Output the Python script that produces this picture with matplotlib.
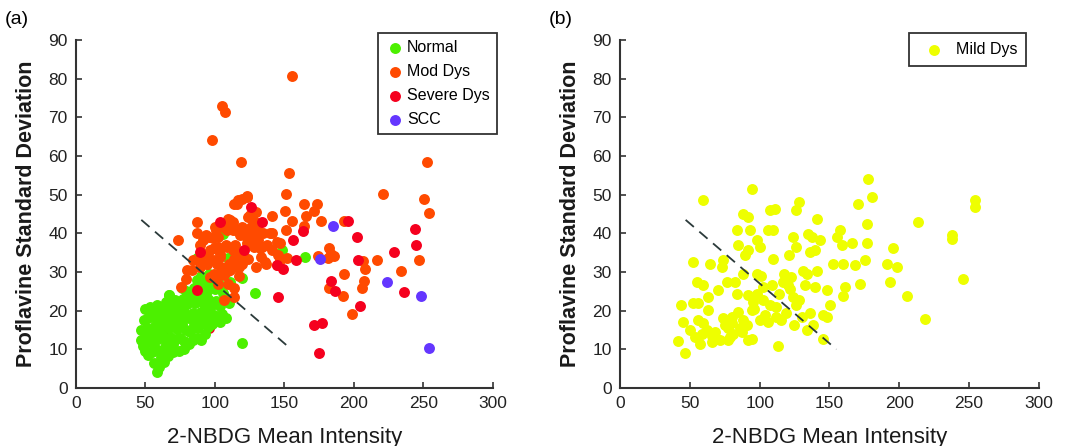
import numpy as np
import matplotlib
matplotlib.use("Agg")
import matplotlib.pyplot as plt

plt.rcParams['font.family'] = ['Liberation Sans', 'DejaVu Sans']

# --- DADOS ---
normal_x = [58, 60, 63, 56, 61, 52, 55, 58, 62, 66, 70, 74, 78, 66, 70, 50, 48,
            47, 50, 53, 56, 59, 62, 65, 68, 72, 75, 78, 81, 84, 87, 90, 93,
            47, 51, 54, 57, 60, 63, 67, 70, 73, 76, 79, 82, 85, 88, 91, 95, 98, 100,
            49, 52, 55, 58, 61, 64, 66, 69, 72, 75, 78, 81, 84, 87, 90, 93, 96, 99,
            102, 105, 108, 104, 50, 53, 58, 60, 56, 64,
            62, 65, 68, 71, 74, 77, 80, 83, 86, 89, 92, 95, 98, 101, 104, 107, 110,
            79, 82, 85, 88, 91, 94, 97, 100, 103, 106, 67, 76,
            87, 90, 93, 96, 99, 102,
            119.8, 119.3, 128.9, 148.6, 165, 105.6, 109.7, 110.9, 86.9, 67.2]
normal_y = [4.2, 5.5, 6.8, 6.5, 8, 8.5, 9.3, 9.8, 9, 8.3, 9.2, 9.5, 10, 11, 11.5, 9.5, 10.8,
            12.5, 13.2, 12, 13.5, 12.8, 13.8, 12.5, 13.3, 12.7, 13, 12.2, 11.5, 12.3, 13, 12.5, 14,
            15, 15.5, 14.8, 16, 15.3, 16.2, 15.5, 16.8, 15.2, 16.5, 15, 14.5, 16.2, 15.5, 16.8, 15.8, 16.5, 17.8,
            17.5, 18.2, 19.5, 17.5, 18.8, 17.7, 19.6, 18.2, 19.3, 18.4, 19.7, 18, 19.4, 18.3, 19.6, 18.5, 19.8, 19,
            18.5, 19.2, 18.2, 17, 20.5, 21, 21.5, 19.5, 11, 10.5,
            20.8, 22.3, 21, 22.7, 21.5, 23, 21.8, 23.2, 22, 23.8, 21.7, 23, 21.5, 22.6, 21.3, 23.5, 22,
            25.2, 24.5, 26, 25.3, 26.5, 25, 26.8, 25.5, 25.8, 24.5, 24, 25.8,
            28, 29, 28.2, 29.5, 28.5, 27.5,
            11.7, 28.5, 24.6, 35.6, 33.9, 39.9, 33.6, 27.4, 33.6, 24]

mod_x = [155.8, 104.9, 107.3, 97.7, 118.6, 153.6, 252.8, 220.9, 250.7, 253.9,
         151, 150.5, 155.3, 164, 173.3, 171.5, 165.9, 176.3, 193, 247.2, 234.2, 216.3,
         206.3, 208.1, 207, 205.8, 198.8, 182.1, 183.7, 186, 181.4, 193, 182.1, 191.9, 174.4,
         115.7, 119.3, 122.9, 140.9, 134.9, 140.9, 130.1, 125.3, 127.7, 121.7, 112.8, 110.9,
         108.6, 102.5, 100.1, 95.8, 91.6, 86.9, 86.9, 73.7, 89.3, 94.4, 99.2, 103.7, 113.4,
         118.2, 124.1, 127.7, 131.3, 122.9, 118.2, 137.3, 129.7, 136.1, 117.1, 110.9, 106.2,
         102.5, 99.2, 94.4, 89.3, 83.2, 79.2, 75.9, 106.2, 113.4, 109.7, 96.8, 101.3, 108.6,
         114.6, 127.7, 132.5, 79.7, 84.4, 144.5, 145.7, 152, 164.4, 123.3, 116.3, 113.9,
         129.5, 123.6, 130.6, 125.9, 131.8, 128.3, 124.5, 121, 119.8, 115.1, 112.7, 109.2,
         106.9, 101, 98.6, 93.9, 96.3, 102.2, 108, 112.7, 118.6, 128.3, 134.1, 133, 136.5,
         141.2, 146.8, 146.8, 144.4, 119.8, 115.1, 110.4, 103.3, 98.6, 94, 89.2, 104.5,
         109.2, 102.2, 139.7, 151, 114, 117]
mod_y = [80.7, 72.9, 71.4, 64.1, 58.5, 55.5, 58.5, 50.1, 48.8, 45.4,
         50.3, 45.8, 43.1, 47.6, 47.6, 45.7, 44.4, 43.1, 43.1, 33, 30.3, 33.1,
         32.9, 30.7, 27.8, 26, 19.2, 36.3, 34.6, 34.2, 33.7, 29.6, 26, 23.7, 34.2,
         47.7, 49, 49.6, 44.4, 40, 40, 41.7, 44.7, 43.4, 40.8, 40.8, 43.4,
         40.8, 39.1, 41.7, 39.1, 38.2, 40.1, 43, 38.4, 36.9, 34.8, 36.1, 34.8, 33.5,
         34.8, 33.5, 36.9, 38.2, 37.4, 39.5, 36.9, 31.3, 32.6, 31.3, 30.5, 29.2,
         27, 29.6, 32.2, 31.3, 30.5, 28.3, 26.1, 22.7, 23.6, 27, 28.7, 32.2, 36.5,
         36.9, 40, 36.1, 30.5, 33, 37.8, 34.3, 33.6, 41.8, 49.4, 48.6, 47.7,
         45.6, 44.3, 42.6, 41.7, 40, 39.1, 38.2, 39.5, 41.7, 40.8, 43, 43.8,
         41.3, 40.8, 38.7, 39.5, 35.7, 36.5, 37, 35.7, 34.8, 36.5, 36.5, 33.9, 32.2,
         35.7, 37.4, 33.1, 31.8, 32.2, 31.3, 32.2, 33.9, 33.1, 32.2, 33.1, 31.3,
         30.4, 29.2, 40, 40.8, 26, 29]

severe_x = [174.7, 171.4, 177.2, 145.7, 156.2, 163.1, 158.6, 148.8, 144.5, 183.7,
            186.7, 204.2, 202.3, 196, 203, 229.1, 236, 244.2, 244.7, 89.3, 125.6,
            133.7, 103.7, 86.9, 95.8, 64.6, 121]
severe_y = [9.1, 16.2, 16.9, 23.6, 38.2, 40.6, 33, 30.9, 31.8, 27.8,
            25.2, 21.1, 39.1, 43.1, 33.1, 35.2, 24.8, 41.2, 37.1, 35.2, 46.9,
            43, 43, 25.3, 15.4, 13.8, 35.7]

scc_x = [185.3, 175.4, 223.7, 248.1, 254]
scc_y = [41.8, 33.5, 27.3, 23.9, 10.4]

mild_x = [41.7, 46.5, 43.4, 45.3, 52.5, 59.2, 54.9, 59.6, 52.5, 56, 50, 53.6, 57.2,
          59.6, 58.4, 56, 64.4, 63.2, 63.2, 65.6, 69.2, 71.6, 70.4, 72.8, 73.9, 76.3,
          75.1, 77.5, 78.7, 79.9, 82.3, 83.5, 81.1, 84.7, 83.5, 84.7, 88.3, 91.9, 94.2,
          93.1, 88.3, 89.5, 91.9, 88.3, 90.7, 87.1, 91.9, 94.2, 94.2, 95.4, 97.8, 97.8,
          97.8, 100.2, 100.2, 102.6, 102.6, 106.2, 109.7, 107.4, 110.9, 109.7, 108.6,
          106.2, 107.4, 111.8, 113, 114.2, 115.4, 117.7, 118.9, 116.6, 120.1, 121.3,
          122.5, 123.7, 123.7, 126.1, 126.1, 128.5, 126.1, 124.9, 128.5, 131.2, 133.6,
          132.4, 130, 133.6, 136, 134.8, 137.2, 136, 139.6, 140.8, 140.8, 139.6, 138.4,
          143.2, 145.5, 145.5, 147.9, 147.9, 150.3, 152.7, 155.1, 157.5, 158.7, 159.9,
          161.1, 159.9, 165.8, 168.2, 170.6, 171.8, 175.4, 176.6, 176.6, 177.8, 180.2,
          190.9, 193.3, 195.7, 198.1, 205.2, 213.6, 218.4, 237.4, 237.4, 245.7, 254.1,
          254.1, 68, 74, 80, 86, 66, 96, 104, 112, 119, 122, 101, 92, 62, 77]
mild_y = [12.1, 9.1, 21.6, 17.1, 32.6, 48.6, 27.4, 26.6, 22.1, 22.1, 14.9, 13.2, 11.5,
          16.7, 14, 17.6, 32.2, 23.6, 20.1, 11.9, 12.8, 12.3, 25.3, 31.3, 33, 27.4,
          16.3, 15.4, 13.2, 18.4, 27.4, 24.4, 14, 19.7, 40.8, 36.9, 45.1, 44.3, 51.6,
          40.8, 29.6, 34.4, 35.7, 17.6, 16.3, 14.5, 12.3, 12.8, 20.1, 22.3, 24.4, 29.6,
          38.2, 36.5, 17.6, 22.7, 26.1, 40.8, 40.8, 46, 46.4, 33.5, 26.6,
          17.2, 21.4, 18.4, 11, 24.4, 17.6, 29.6, 28.3, 27.4, 26.6, 34.4,
          28.7, 23.5, 39, 36.5, 46, 48.1, 21.4, 16.3, 22.7, 30.4, 29.6,
          26.6, 18.4, 14.9, 19.3, 39.9, 39, 35.2, 35.7, 43.8, 30.4, 26.1, 16.3,
          38.2, 12.8, 19, 25.3, 18.4, 21.4, 32.2, 39, 40.8, 36.9, 32.2,
          26.1, 23.9, 37.4, 31.7, 47.6, 26.9, 33, 37.4, 42.5, 54.2, 49.4,
          32.2, 27.4, 36.1, 31.3, 23.9, 42.9, 17.9, 39.5, 38.6, 28.3, 48.6,
          46.9, 14.5, 18, 16.8, 15.5, 13.5, 20.5, 18.8, 21, 19.5, 25.5, 29, 24, 15, 12.5]

xticks = [0, 50, 100, 150, 200, 250, 300]
yticks = [0, 10, 20, 30, 40, 50, 60, 70, 80, 90]
# linha de separação tracejada
sep_x = [47, 155]
sep_y = [43.5, 10]

MS = 62
fig = plt.figure(figsize=(10.66, 4.46), dpi=100)
ax1 = fig.add_axes([0.0713, 0.130, 0.391, 0.780])
ax2 = fig.add_axes([0.5816, 0.130, 0.393, 0.780])

sx = np.array(severe_x)
sy = np.array(severe_y)
# pontos severos escondidos no meio do grupo normal ficam por baixo
escondido = (sx < 100) & (sy < 20)

ax1.scatter(sx[escondido], sy[escondido], s=MS, color='#f5001e', linewidths=0, zorder=1.5)
ax1.scatter(normal_x, normal_y, s=MS, color='#4cf000', linewidths=0, label='Normal', zorder=2)
ax1.scatter(mod_x, mod_y, s=MS, color='#ff4a00', linewidths=0, label='Mod Dys', zorder=3)
ax1.scatter(sx[~escondido], sy[~escondido], s=MS, color='#f5001e', linewidths=0,
            label='Severe Dys', zorder=3.5)
ax1.scatter(scc_x, scc_y, s=MS, color='#6436ff', linewidths=0, label='SCC', zorder=4)

ax2.scatter(mild_x, mild_y, s=MS, color='#eeff00', linewidths=0, label='Mild Dys', zorder=2)

for ax, tag in [(ax1, '(a)'), (ax2, '(b)')]:
    ax.plot(sep_x, sep_y, color='#2b3a3a', linestyle=(0, (6, 4)), linewidth=1.3, zorder=5)
    ax.set_xlim(0, 300)
    ax.set_ylim(0, 90)
    ax.set_xticks(xticks)
    ax.set_yticks(yticks)
    ax.spines['top'].set_visible(False)
    ax.spines['right'].set_visible(False)
    for sp in ['left', 'bottom']:
        ax.spines[sp].set_color('#333333')
        ax.spines[sp].set_linewidth(1.5)
    ax.tick_params(direction='in', length=4, width=1.2, color='#333333',
                   labelsize=12.5, labelcolor='#222222', pad=6)
    ax.set_ylabel('Proflavine Standard Deviation', fontsize=15.5, fontweight='bold',
                  color='#1a1a1a', labelpad=8)
    ax.set_xlabel('2-NBDG Mean Intensity', fontsize=16, color='#1a1a1a', labelpad=11)
    ax.text(-0.17, 1.06, tag, transform=ax.transAxes, fontsize=14, ha='left', va='center')

leg1 = ax1.legend(loc='upper right', bbox_to_anchor=(1.01, 1.02), fontsize=11.5,
                  frameon=True, fancybox=False, edgecolor='black', handletextpad=0.15,
                  borderpad=0.45, labelspacing=0.55, handlelength=1.2, scatterpoints=1,
                  borderaxespad=0)
leg1.get_frame().set_linewidth(1.3)
leg2 = ax2.legend(loc='upper right', bbox_to_anchor=(0.97, 1.02), fontsize=11.5, frameon=True,
                  fancybox=False, edgecolor='black', handletextpad=0.4, borderpad=0.55,
                  handlelength=2.0, scatterpoints=1, borderaxespad=0)
leg2.get_frame().set_linewidth(1.3)

plt.savefig('out.png', dpi=100)
plt.close()
